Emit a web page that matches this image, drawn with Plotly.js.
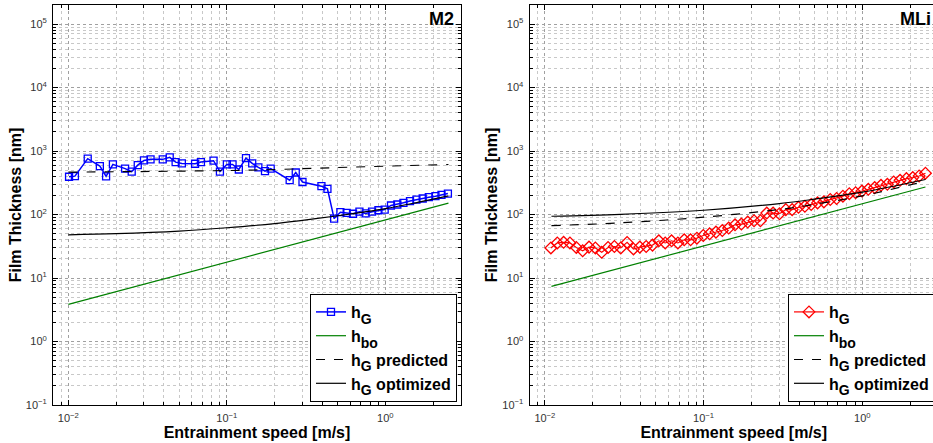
<!DOCTYPE html>
<html>
<head>
<meta charset="utf-8">
<script src="https://cdn.plot.ly/plotly-3.0.1.min.js"></script>
<style>
html, body { margin:0; padding:0; overflow:hidden; background:#fff; }
#chart { width:942px; height:443px; }
</style>
</head>
<body>
<div id="chart"></div>
<script>
// ---------- data: panel M2 ----------
const xM2 = [0.0101, 0.0110, 0.01325, 0.0158, 0.0173, 0.0191, 0.0228, 0.0251, 0.0274, 0.0300,
             0.0330, 0.0394, 0.0436, 0.0475, 0.0520, 0.0630, 0.0686, 0.0824, 0.0904, 0.1000,
             0.1086, 0.1190, 0.1320, 0.1445, 0.1580, 0.1740, 0.1890, 0.2490, 0.2720, 0.3000,
             0.3950, 0.4310, 0.4750, 0.520, 0.570, 0.625, 0.686, 0.751, 0.824, 0.904,
             0.990, 1.085, 1.190, 1.300, 1.430, 1.570, 1.720, 1.880, 2.070, 2.260, 2.480];
const hGM2 = [394, 403, 760, 579, 400, 617, 530, 475, 600, 713,
              740, 740, 795, 670, 640, 631, 670, 705, 475, 617,
              617, 513, 775, 640, 552, 483, 529, 348, 460, 326,
              280, 254, 86.5, 109, 106, 103, 111, 104, 111, 117,
              120, 139, 144, 153, 163, 172, 179, 188, 195, 204, 214];
const xBoM2 = [0.01, 0.1, 1, 2.5];
const hBoM2 = [3.85, 17.8, 82, 151];
const xPredM2 = [0.01, 0.14, 0.6, 2.5];
const hPredM2 = [466, 501, 558, 615];
const xOptM2 = [0.01, 0.02, 0.05, 0.1, 0.2, 0.3, 0.475, 0.7, 1, 1.6, 2.5];
const hOptM2 = [48, 50, 55, 62, 72, 81, 94, 108, 124, 156, 197];

// ---------- data: panel MLi ----------
const xMLi = [0.01091, 0.01197, 0.01312, 0.01439, 0.01578, 0.01730, 0.01897, 0.02080, 0.02281, 0.02501,
              0.02742, 0.03007, 0.03297, 0.03615, 0.03964, 0.04347, 0.04766, 0.05226, 0.05730, 0.06284,
              0.06887, 0.07551, 0.08279, 0.09078, 0.09954, 0.1091, 0.1197, 0.1312, 0.1439, 0.1578,
              0.1730, 0.1897, 0.2080, 0.2281, 0.2501, 0.2742, 0.3007, 0.3297, 0.3615, 0.3964,
              0.4347, 0.4766, 0.5226, 0.5730, 0.6284, 0.6887, 0.7551, 0.8279, 0.9078, 0.9954,
              1.091, 1.197, 1.312, 1.439, 1.578, 1.730, 1.897, 2.080, 2.281, 2.501];
const hGMLi = [29.8, 35.7, 36.5, 35.7, 30.3, 26.9, 30.7, 29.8, 25.4, 30.3,
               31.4, 29.8, 36.4, 28.7, 30.7, 31.4, 33.0, 38.6, 35.7, 38.6,
               35.7, 40.0, 40.0, 42.5, 46.8, 49.8, 52.9, 56.0, 61.2, 69.0,
               70.8, 76.1, 79.9, 79.9, 105.6, 105.6, 103, 119.5, 119.5, 130,
               134.8, 143.7, 152.7, 158.4, 172.6, 179.1, 194.8, 212.9, 220.9, 234.7,
               249.7, 265.6, 289, 300, 326, 346, 368, 382, 405, 448];
const xBoMLi = [0.011, 0.1, 1, 2.5];
const hBoMLi = [7.4, 32, 148, 272];
const xPredMLi = [0.011, 0.03, 0.1, 0.3, 0.5, 1, 2.5];
const hPredMLi = [67, 74, 91, 120, 145, 197, 336];
const xOptMLi = [0.011, 0.03, 0.1, 0.3, 0.5, 1, 2.5];
const hOptMLi = [94, 101, 117, 149, 175, 225, 357];

// ---------- ticks / texts ----------
const xTickVals = [0.01, 0.1, 1];
const xTickText = ['10<sup>\u22122</sup>', '10<sup>\u22121</sup>', '10<sup>0</sup>'];
const yTickVals = [0.1, 1, 10, 100, 1000, 10000, 100000];
const yTickText = ['10<sup>\u22121</sup>', '10<sup>0</sup>', '10<sup>1</sup>', '10<sup>2</sup>',
                   '10<sup>3</sup>', '10<sup>4</sup>', '10<sup>5</sup>'];
const SUB = s => '<sub><sub><span style="font-size:14px">' + s + '</span></sub></sub>';
const legendNames = ['h' + SUB('G'), 'h' + SUB('bo'), 'h' + SUB('G') + ' predicted', 'h' + SUB('G') + ' optimized'];
const panelTitles = ['M2', 'MLi'];
const xTitle = 'Entrainment speed [m/s]';
const yTitle = 'Film Thickness [nm]';

function minorVals(lo, hi) {
  const v = [];
  for (let e = lo; e <= hi; e++) for (let m = 2; m <= 9; m++) v.push(m * Math.pow(10, e));
  return v;
}
const xMinor = minorVals(-3, 0);
const yMinor = minorVals(-1, 5);

const FONT = 'Liberation Sans, Arial, Helvetica, sans-serif';
const tickFont = {family: FONT, size: 11, color: '#333'};
const titleFont = {family: FONT, size: 16, color: '#000', weight: 'bold'};

function axisBase(tv, tt, minor) {
  return {
    type: 'log', tickmode: 'array', tickvals: tv, ticktext: tt,
    ticks: 'inside', ticklen: 5, tickwidth: 1, tickcolor: '#000',
    showline: true, linecolor: '#000', linewidth: 1, mirror: 'allticks',
    showgrid: true, gridcolor: '#a0a0a0', griddash: 'dot', gridwidth: 1,
    zeroline: false, tickfont: tickFont, ticklabelstandoff: 3,
    minor: {tickmode: 'array', tickvals: minor, ticks: 'inside', ticklen: 3, tickcolor: '#000',
            showgrid: true, gridcolor: '#c8c8c8', griddash: 'dot', gridwidth: 1}
  };
}
const xr = [Math.log10(0.008), Math.log10(3)];
const yr = [-1, Math.log10(2e5)];

const W = 942, H = 443, ML = 53, MR = 4, MT = 5, MB = 38;
const PW = W - ML - MR;
const leftEnd = 408 / PW;
const rightStart = (529.5 - ML) / PW;

const blackLine = {color: '#000', width: 1.2, shape: 'spline', smoothing: 1};
const traces = [
  {x: xM2, y: hGM2, name: legendNames[0], mode: 'lines+markers', xaxis: 'x', yaxis: 'y', legend: 'legend', legendgroup: 'a1',
   line: {color: '#0000ff', width: 1.5}, marker: {symbol: 'square-open', size: 7, color: '#0000ff', line: {width: 1.3, color: '#0000ff'}}},
  {x: xBoM2, y: hBoM2, name: legendNames[1], mode: 'lines', xaxis: 'x', yaxis: 'y', legend: 'legend', legendgroup: 'a2',
   line: {color: '#008000', width: 1.2}},
  {x: xPredM2, y: hPredM2, name: legendNames[2], mode: 'lines', xaxis: 'x', yaxis: 'y', legend: 'legend', legendgroup: 'a3',
   line: Object.assign({}, blackLine, {dash: 'dash'})},
  {x: xOptM2, y: hOptM2, name: legendNames[3], mode: 'lines', xaxis: 'x', yaxis: 'y', legend: 'legend', legendgroup: 'a4',
   line: blackLine},
  {x: xMLi, y: hGMLi, name: legendNames[0], mode: 'lines+markers', xaxis: 'x2', yaxis: 'y2', legend: 'legend2', legendgroup: 'b1',
   line: {color: '#ff0000', width: 1.2}, marker: {symbol: 'diamond-open', size: 9, color: '#ff0000', line: {width: 1.3, color: '#ff0000'}}},
  {x: xBoMLi, y: hBoMLi, name: legendNames[1], mode: 'lines', xaxis: 'x2', yaxis: 'y2', legend: 'legend2', legendgroup: 'b2',
   line: {color: '#008000', width: 1.2}},
  {x: xPredMLi, y: hPredMLi, name: legendNames[2], mode: 'lines', xaxis: 'x2', yaxis: 'y2', legend: 'legend2', legendgroup: 'b3',
   line: Object.assign({}, blackLine, {dash: 'dash'})},
  {x: xOptMLi, y: hOptMLi, name: legendNames[3], mode: 'lines', xaxis: 'x2', yaxis: 'y2', legend: 'legend2', legendgroup: 'b4',
   line: blackLine}
];

const xa1 = Object.assign(axisBase(xTickVals, xTickText, xMinor), {domain: [0, leftEnd], anchor: 'y', range: xr,
  title: {text: xTitle, font: titleFont, standoff: 0}});
const xa2 = Object.assign(axisBase(xTickVals, xTickText, xMinor), {domain: [rightStart, 1], anchor: 'y2', range: xr,
  title: {text: xTitle, font: titleFont, standoff: 0}});
const ya1 = Object.assign(axisBase(yTickVals, yTickText, yMinor), {domain: [0, 1], anchor: 'x', range: yr,
  title: {text: yTitle, font: titleFont, standoff: 0}});
const ya2 = Object.assign(axisBase(yTickVals, yTickText, yMinor), {domain: [0, 1], anchor: 'x2', range: yr,
  title: {text: yTitle, font: titleFont, standoff: 0}});

const legendBase = {
  y: 0.0075, yanchor: 'bottom', xanchor: 'right', bgcolor: '#fff', bordercolor: '#000', borderwidth: 1,
  font: {family: FONT, size: 16, color: '#000', weight: 'bold'}, traceorder: 'grouped', tracegroupgap: 0
};

const layout = {
  width: W, height: H,
  margin: {l: ML, r: MR, t: MT, b: MB, autoexpand: false},
  paper_bgcolor: '#fff', plot_bgcolor: '#fff',
  showlegend: true,
  xaxis: xa1, yaxis: ya1, xaxis2: xa2, yaxis2: ya2,
  legend: Object.assign({}, legendBase, {x: (457 - ML) / PW}),
  legend2: Object.assign({}, legendBase, {x: (935 - ML) / PW}),
  annotations: [
    {text: panelTitles[0], xref: 'paper', yref: 'paper', x: (456 - ML) / PW, y: 0.995, xanchor: 'right', yanchor: 'top',
     showarrow: false, font: {family: FONT, size: 18, color: '#000', weight: 'bold'}},
    {text: panelTitles[1], xref: 'paper', yref: 'paper', x: (933 - ML) / PW, y: 0.995, xanchor: 'right', yanchor: 'top',
     showarrow: false, font: {family: FONT, size: 18, color: '#000', weight: 'bold'}}
  ]
};

Plotly.newPlot('chart', traces, layout, {displayModeBar: false, staticPlot: true});
</script>
</body>
</html>
